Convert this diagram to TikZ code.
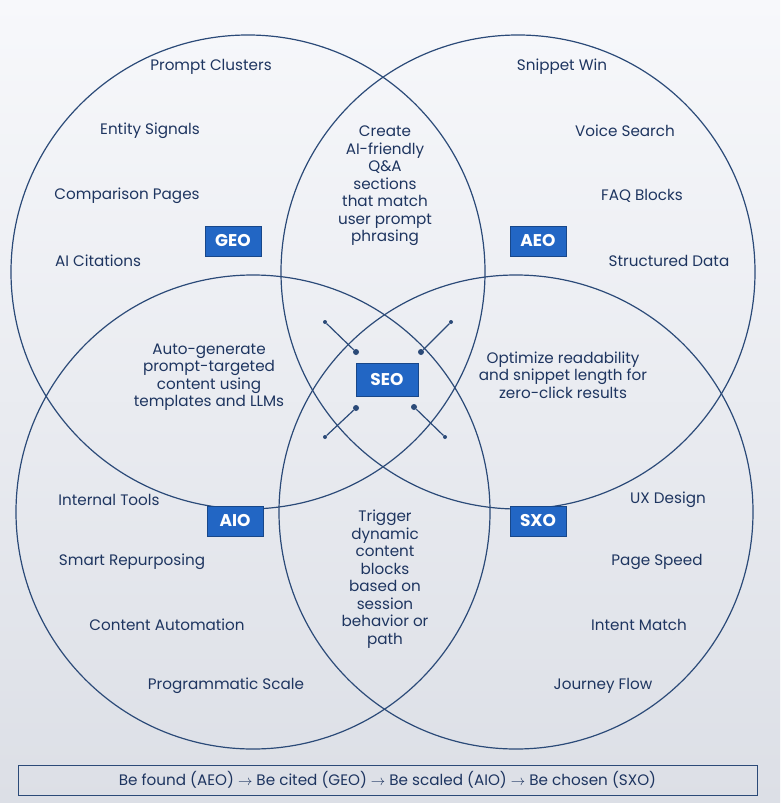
\documentclass[tikz,border=0pt]{standalone}
\usepackage{fontspec}
\setmainfont{Poppins}
\begin{document}
\begin{tikzpicture}[x=1pt,y=-1pt,
  circ/.style={draw=lineblue,line width=1.2pt},
  tag/.style={fill=tagblue,text=white,font=\fontsize{17}{17}\selectfont\bfseries,minimum width=56pt,minimum height=30pt,inner sep=0pt,draw=tagblue!70!black,line width=0.6pt},
  lbl/.style={font=\fontsize{15.2}{17.5}\selectfont,text=textblue,align=center,inner sep=0pt},
  tick/.style={draw=lineblue,line width=1.2pt},
  dotS/.style={circle,fill=lineblue,inner sep=0pt,minimum size=4pt},
  dotL/.style={circle,fill=lineblue,inner sep=0pt,minimum size=6pt}]
\definecolor{lineblue}{HTML}{2B4A78}
\definecolor{tagblue}{HTML}{2266C4}
\definecolor{textblue}{HTML}{1E3560}
\definecolor{bgtop}{HTML}{F7F8FB}
\definecolor{bgbot}{HTML}{DCDFE6}
\shade[top color=bgtop,bottom color=bgbot] (0,0) rectangle (780,803);
\useasboundingbox (0,0) rectangle (780,803);
\draw[circ] (248,272) circle (237);
\draw[circ] (518,272) circle (237);
\draw[circ] (253,512) circle (237);
\draw[circ] (516,512) circle (237);
\node[tag] (geo) at (233,241) {GEO};
\node[tag] (aeo) at (538,241) {AEO};
\node[tag] (aio) at (235,521) {AIO};
\node[tag] (sxo) at (538,521) {SXO};
\node[tag,minimum width=62pt,minimum height=33pt] (seo) at (387,380) {SEO};
\node[dotS] (a1) at (325,322) {}; \node[dotL] (b1) at (356,352) {};
\node[dotS] (a2) at (451,322) {}; \node[dotL] (b2) at (421,352) {};
\node[dotS] (a3) at (325,437) {}; \node[dotL] (b3) at (356,408) {};
\node[dotS] (a4) at (445,437) {}; \node[dotL] (b4) at (414,407) {};
\draw[tick] (a1)--(b1); \draw[tick] (a2)--(b2); \draw[tick] (a3)--(b3); \draw[tick] (a4)--(b4);
\node[lbl] (t1) at (211,67) {Prompt Clusters};
\node[lbl] (t2) at (150,131) {Entity Signals};
\node[lbl] (t3) at (127,196) {Comparison Pages};
\node[lbl] (t4) at (98,261) {AI Citations};
\node[lbl] (t5) at (562,67) {Snippet Win};
\node[lbl] (t6) at (625,131) {Voice Search};
\node[lbl] (t7) at (642,196) {FAQ Blocks};
\node[lbl] (t8) at (669,261) {Structured Data};
\node[lbl] (t9) at (109,500) {Internal Tools};
\node[lbl] (t10) at (132,562) {Smart Repurposing};
\node[lbl] (t11) at (167,625) {Content Automation};
\node[lbl] (t12) at (226,686) {Programmatic Scale};
\node[lbl] (t13) at (668,500) {UX Design};
\node[lbl] (t14) at (657,562) {Page Speed};
\node[lbl] (t15) at (639,625) {Intent Match};
\node[lbl] (t16) at (603,686) {Journey Flow};
\node[lbl] (top) at (385,186) {Create\\AI-friendly\\Q\&A\\sections\\that match\\user prompt\\phrasing};
\node[lbl] (left) at (209,377) {Auto-generate\\prompt-targeted\\content using\\templates and LLMs};
\node[lbl] (right) at (563,375) {Optimize readability\\and snippet length for\\zero-click results};
\node[lbl] (bot) at (385,579) {Trigger\\dynamic\\content\\blocks\\based on\\session\\behavior or\\path};
\node[draw=lineblue,line width=1pt,minimum width=739pt,minimum height=30pt,inner sep=0pt,font=\fontsize{15.2}{17}\selectfont,text=textblue] (bar) at (387.5,780) {Be found (AEO) $\rightarrow$ Be cited (GEO) $\rightarrow$ Be scaled (AIO) $\rightarrow$ Be chosen (SXO)};
\end{tikzpicture}
\end{document}
